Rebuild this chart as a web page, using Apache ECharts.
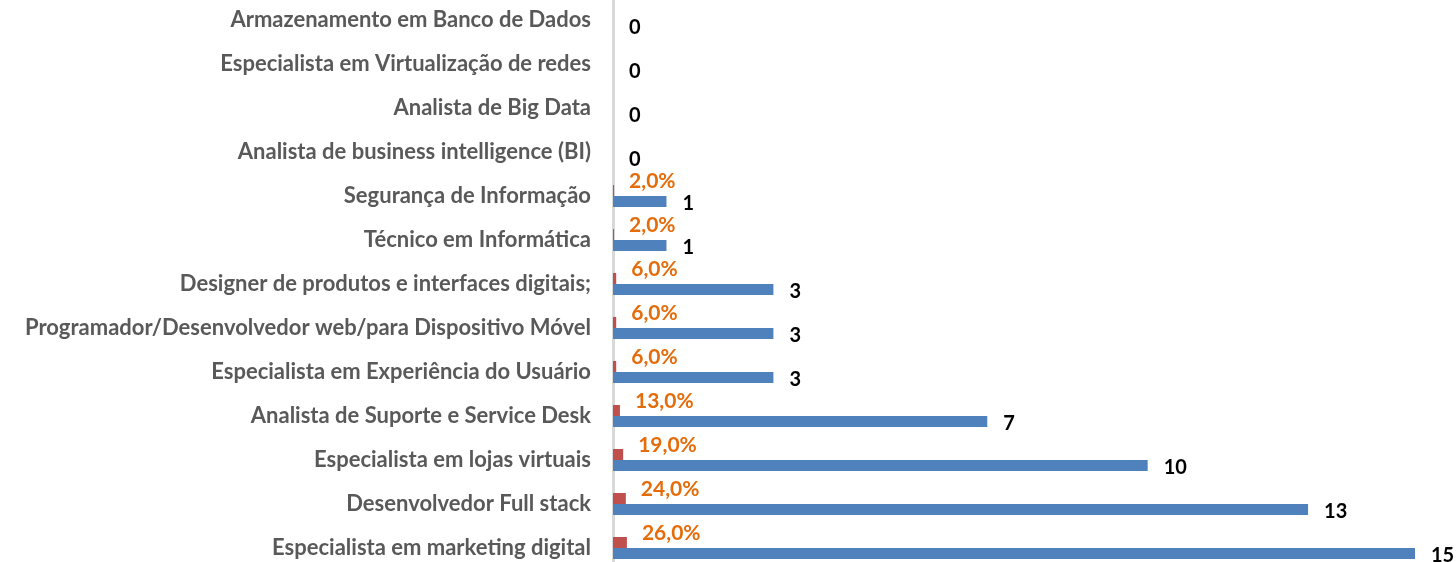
<!DOCTYPE html>
<html>
<head>
<meta charset="utf-8">
<script src="https://cdn.jsdelivr.net/npm/echarts@6/dist/echarts.min.js"></script>
<style>
  html, body { margin: 0; padding: 0; background: #fff; }
  #chart { width: 1456px; height: 562px; }
</style>
</head>
<body>
<div id="chart"></div>
<script>
  // categories from bottom to top
  const categories = [
    'Especialista em marketing digital',
    'Desenvolvedor Full stack',
    'Especialista em lojas virtuais',
    'Analista de Suporte e Service Desk',
    'Especialista em Experiência do Usuário',
    'Programador/Desenvolvedor web/para Dispositivo Móvel',
    'Designer de produtos e interfaces digitais;',
    'Técnico em Informática',
    'Segurança de Informação',
    'Analista de business intelligence (BI)',
    'Analista de Big Data',
    'Especialista em Virtualização de redes',
    'Armazenamento em Banco de Dados'
  ]
  const counts = [15, 13, 10, 7, 3, 3, 3, 1, 1, 0, 0, 0, 0]
  const shares = [0.26, 0.24, 0.19, 0.13, 0.06, 0.06, 0.06, 0.02, 0.02, 0, 0, 0, 0]

  const font = 'Lato, "Open Sans", sans-serif'

  const chart = echarts.init(document.getElementById('chart'))
  chart.setOption({
    animation: false,
    grid: { left: 613, right: 41, top: -2, height: 572, outerBoundsMode: 'none', containLabel: false },
    xAxis: {
      type: 'value',
      min: 0,
      max: 15,
      show: false
    },
    yAxis: {
      type: 'category',
      data: categories,
      axisLine: { show: true, lineStyle: { color: '#d9d9d9', width: 3 } },
      axisTick: { show: false },
      axisLabel: {
        margin: 22,
        color: '#595959',
        fontWeight: 'bold',
        fontSize: 22,
        fontFamily: font
      }
    },
    series: [
      {
        name: 'Percentual',
        type: 'bar',
        data: shares,
        barCategoryGap: '50%',
        barGap: '0%',
        itemStyle: { color: '#c0504d' },
        label: {
          show: true,
          position: 'right',
          distance: 15,
          offset: [0, -9],
          color: '#e46c0a',
          fontWeight: 'bold',
          fontSize: 21,
          fontFamily: font,
          formatter: p => p.value > 0 ? (p.value * 100).toFixed(1).replace('.', ',') + '%' : ''
        }
      },
      {
        name: 'Quantidade',
        type: 'bar',
        data: counts,
        itemStyle: { color: '#4f81bd' },
        label: {
          show: true,
          position: 'right',
          distance: 16,
          offset: [0, 2],
          color: '#000',
          fontWeight: 'bold',
          fontSize: 20,
          fontFamily: font
        }
      }
    ]
  })
</script>
</body>
</html>
